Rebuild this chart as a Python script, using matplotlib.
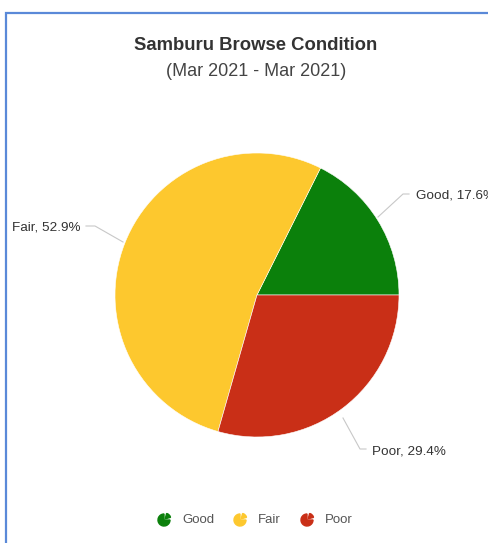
import matplotlib.pyplot as plt
from matplotlib.patches import Wedge

# Browse condition shares
categories = ['Good', 'Fair', 'Poor']
shares = [17.6, 52.9, 29.4]
colors = ['#0b800b', '#fdc82e', '#c92f17']

W, H = 489, 543
plt.rcParams['font.family'] = ['Liberation Sans', 'DejaVu Sans']

fig = plt.figure(figsize=(W / 100, H / 100), dpi=100)
ax = fig.add_axes([0, 0, 1, 1])

def Y(y):
    # pixel rows are counted from the top
    return H - y

cx, cy, r = 257, Y(295), 142
ax.pie(shares, colors=colors, startangle=0, counterclock=True,
       center=(cx, cy), radius=r, frame=True,
       wedgeprops=dict(edgecolor='white', linewidth=0.4))
ax.set_xlim(0, W)
ax.set_ylim(0, H)
ax.set_aspect('equal')
ax.axis('off')

# frame
ax.plot([6, 6, W + 5], [Y(H + 5), Y(13), Y(13)], color='#5a89d8', lw=1.6,
        solid_joinstyle='miter')

ax.text(256, Y(45), 'Samburu Browse Condition', ha='center', va='center',
        fontsize=13.3, fontweight='bold', color='#333333')
ax.text(256, Y(72), '(Mar 2021 - Mar 2021)', ha='center', va='center',
        fontsize=13, color='#444444')

# data labels with connectors
labels = ['%s, %.1f%%' % (c, s) for c, s in zip(categories, shares)]
conn = [
    [(378, 217), (403, 194), (409, 194)],
    [(123, 242), (95, 226), (86, 226)],
    [(343, 418), (360, 449), (366, 449)],
]
label_pos = [(416, 195, 'left'), (81, 227, 'right'), (372, 451, 'left')]
for lab, pts, (lx, ly, ha) in zip(labels, conn, label_pos):
    ax.plot([p[0] for p in pts], [Y(p[1]) for p in pts], color='#c8c8c8', lw=0.8)
    ax.text(lx, Y(ly), lab, ha=ha, va='center', fontsize=9.7, color='#333333')

# legend with small pie symbols
legend_x = [164, 240, 307]
for c, col, lx in zip(categories, colors, legend_x):
    ly = Y(520)
    ax.add_patch(Wedge((lx, ly), 6, 90, 360, color=col))
    ax.add_patch(Wedge((lx + 1.2, ly + 1.2), 5.5, 15, 75, color=col))
    ax.text(lx + 18, ly, c, ha='left', va='center', fontsize=9.5, color='#555555')

fig.savefig('out.png', dpi=100)
